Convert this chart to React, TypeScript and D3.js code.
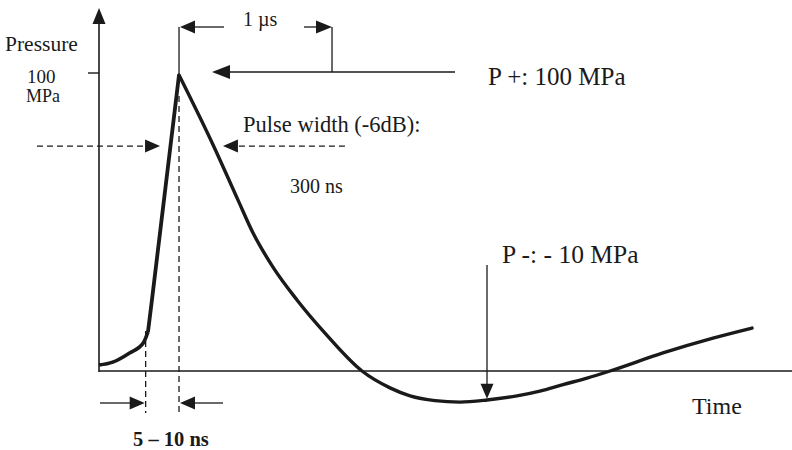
import React from "react";
import * as d3 from "d3";

// ---- data (time in µs, pressure in MPa) ----
const footT = [0.0, 0.09, 0.2, 0.29, 0.32];
const footP = [2.0, 3.0, 6.1, 9.5, 13.2];
const riseT = [0.32, 0.346, 0.523];
const riseP = [13.2, 24, 100];
const decayT = [0.523, 0.752, 0.908, 1.007, 1.137, 1.294, 1.477, 1.719, 1.902, 2.033, 2.196, 2.359, 2.536, 2.732, 2.882, 3.033, 3.19, 3.34, 3.686, 4.013, 4.268];
const decayP = [100, 75.7, 57.8, 46.6, 35.1, 24.0, 12.8, 0, -5.7, -8.4, -10.0, -10.5, -9.8, -8.4, -6.8, -4.6, -2.4, 0, 6.1, 11.1, 14.5];

const peakT = 0.523;
const peakP = 100;
const minT = 2.536;
const minArrowP = -9.4;
const kinkT = 0.305;
const levelP = 76; // pulse-width marker level
const pwLeftT = 0.399;
const pwRightT = 0.81;

const W = 792;
const H = 450;
const FONT = "'Liberation Serif', 'Times New Roman', serif";
const INK = "#1a1a1a";

function zip(t: number[], p: number[]) {
  return t.map((v, i) => [v, p[i]] as [number, number]);
}

function Arrow({ x, y, dir, len = 15, half = 6.5 }: { x: number; y: number; dir: "l" | "r" | "u" | "d"; len?: number; half?: number }) {
  let pts: number[][];
  if (dir === "r") pts = [[x, y], [x - len, y - half], [x - len, y + half]];
  else if (dir === "l") pts = [[x, y], [x + len, y - half], [x + len, y + half]];
  else if (dir === "u") pts = [[x, y], [x - half, y + len], [x + half, y + len]];
  else pts = [[x, y], [x - half, y - len], [x + half, y - len]];
  return <polygon points={pts.map((p) => p.join(",")).join(" ")} fill={INK} />;
}

export default function App() {
  const x0 = 99;
  const pxPerUs = 153;
  const x = d3.scaleLinear().domain([0, (W - x0) / pxPerUs]).range([x0, W]);
  const y = d3.scaleLinear().domain([0, 100]).range([371, 75]);

  const lineMono = d3
    .line<[number, number]>()
    .x((d) => x(d[0]))
    .y((d) => y(d[1]))
    .curve(d3.curveMonotoneX);
  const lineLin = d3
    .line<[number, number]>()
    .x((d) => x(d[0]))
    .y((d) => y(d[1]));

  const px = x(peakT);
  const py = y(peakP);
  const p1 = x(peakT + 1);
  const yLevel = y(levelP);
  const yAxisTop = 8;
  const y0 = y(0);

  const dash = "6,4";

  return (
    <svg width={W} height={H} style={{ position: "absolute", left: 0, top: 0, background: "#fff" }}>
      <rect x={0} y={0} width={W} height={H} fill="#fff" />
      {/* axes */}
      <line x1={x0} y1={y0 + 1} x2={x0} y2={yAxisTop + 10} stroke={INK} strokeWidth={1.6} />
      <Arrow x={x0} y={yAxisTop} dir="u" len={16} half={6.5} />
      <line x1={x0} y1={y0} x2={W} y2={y0} stroke={INK} strokeWidth={1.6} />
      <line x1={88} y1={y(peakP) - 2} x2={x0} y2={y(peakP) - 2} stroke={INK} strokeWidth={1.4} />

      {/* curve */}
      <path d={lineMono(zip(footT, footP)) || ""} fill="none" stroke={INK} strokeWidth={3.6} strokeLinejoin="round" />
      <path d={lineLin(zip(riseT, riseP)) || ""} fill="none" stroke={INK} strokeWidth={3.8} strokeLinejoin="round" />
      <path d={lineMono(zip(decayT, decayP)) || ""} fill="none" stroke={INK} strokeWidth={3.4} strokeLinecap="round" />

      {/* 1 µs bracket */}
      <line x1={px} y1={27} x2={px} y2={py} stroke={INK} strokeWidth={1.3} />
      <Arrow x={px + 1} y={27} dir="l" len={15} half={6.5} />
      <line x1={px + 14} y1={27} x2={224} y2={27} stroke={INK} strokeWidth={1.3} />
      <line x1={304} y1={27} x2={p1 - 12} y2={27} stroke={INK} strokeWidth={1.3} />
      <Arrow x={p1} y={27} dir="r" len={16} half={6.5} />
      <line x1={p1} y1={27} x2={p1} y2={72} stroke={INK} strokeWidth={1.3} />
      <text x={243} y={26} fontFamily={FONT} fontSize={20} fill={INK}>1 µs</text>

      {/* P+ arrow */}
      <Arrow x={212} y={72} dir="l" len={18} half={7} />
      <line x1={228} y1={72} x2={455} y2={72} stroke={INK} strokeWidth={1.4} />
      <text x={488} y={85} fontFamily={FONT} fontSize={25} fill={INK}>P +: 100 MPa</text>

      {/* pulse width */}
      <line x1={37} y1={yLevel} x2={146} y2={yLevel} stroke={INK} strokeWidth={1.3} strokeDasharray={dash} />
      <Arrow x={x(pwLeftT)} y={yLevel} dir="r" len={15} half={6.5} />
      <Arrow x={x(pwRightT)} y={yLevel} dir="l" len={15} half={6.5} />
      <line x1={x(pwRightT) + 16} y1={yLevel} x2={348} y2={yLevel} stroke={INK} strokeWidth={1.3} strokeDasharray={dash} />
      <text x={243} y={132} fontFamily={FONT} fontSize={22.5} fill={INK}>Pulse width (-6dB):</text>
      <text x={290} y={193} fontFamily={FONT} fontSize={20} fill={INK}>300 ns</text>

      {/* vertical dashed markers */}
      <line x1={px} y1={96} x2={px} y2={416} stroke={INK} strokeWidth={1.3} strokeDasharray={dash} />
      <line x1={x(kinkT)} y1={331} x2={x(kinkT)} y2={413} stroke={INK} strokeWidth={1.3} strokeDasharray={dash} />

      {/* rise time arrows */}
      <line x1={100} y1={403} x2={132} y2={403} stroke={INK} strokeWidth={1.3} />
      <Arrow x={x(kinkT) - 1} y={403} dir="r" len={15} half={6.5} />
      <Arrow x={px + 1} y={403} dir="l" len={15} half={6.5} />
      <line x1={px + 14} y1={403} x2={223} y2={403} stroke={INK} strokeWidth={1.3} />
      <text x={133} y={446} fontFamily={FONT} fontSize={20.5} fontWeight="bold" fill={INK}>5 – 10 ns</text>

      {/* P- arrow */}
      <line x1={x(minT)} y1={265} x2={x(minT)} y2={386} stroke={INK} strokeWidth={1.3} />
      <Arrow x={x(minT)} y={y(minArrowP)} dir="d" len={15} half={6.5} />
      <text x={502} y={263} fontFamily={FONT} fontSize={25.5} fill={INK}>P -: - 10 MPa</text>

      {/* axis labels */}
      <text x={5} y={51} fontFamily={FONT} fontSize={21.5} fill={INK}>Pressure</text>
      <text x={27} y={83} fontFamily={FONT} fontSize={19} fill={INK}>100</text>
      <text x={26} y={102} fontFamily={FONT} fontSize={18} fill={INK}>MPa</text>
      <text x={692} y={414} fontFamily={FONT} fontSize={24} fill={INK}>Time</text>
    </svg>
  );
}
